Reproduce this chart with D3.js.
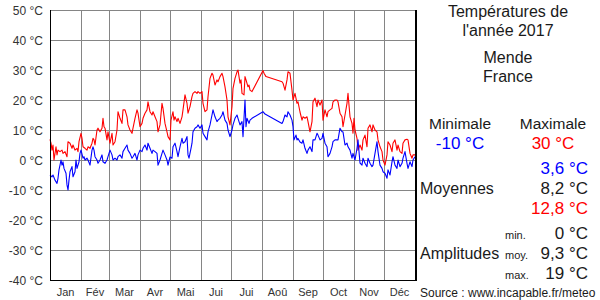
<!DOCTYPE html>
<html>
<head>
<meta charset="utf-8">
<script src="https://cdn.jsdelivr.net/npm/d3@7"></script>
<style>
  body { margin: 0; background: #fff; }
  svg { display: block; font-family: "Liberation Sans", Arial, sans-serif; }
</style>
</head>
<body>
<svg id="chart" width="600" height="300"></svg>
<script>
// ---- data ----
var monthNames = ["Jan", "Fév", "Mar", "Avr", "Mai", "Jui", "Jui", "Aoû", "Sep", "Oct", "Nov", "Déc"];
var monthStarts = [0, 31, 59, 90, 120, 151, 181, 212, 243, 273, 304, 334, 365];
var yTicks = [-40, -30, -20, -10, 0, 10, 20, 30, 40, 50];

// daily maximum (red), day of year / °C
var maxDay = [0,1,2,3,4,6,7,8,10,12,13,15,17,18,20,22,23,25,27,28,29,31,32,33,35,37,38,40,42,43,44,45,47,48,50,52,53,54,
  55,57,58,60,62,63,65,67,68,70,72,73,75,77,78,80,82,83,85,87,88,90,92,93,95,97,98,100,102,103,105,107,108,110,112,113,115,117,118,
  120,121,123,124,125,127,128,130,132,133,135,137,138,140,142,143,145,147,148,150,152,153,155,157,158,160,162,163,165,167,168,170,172,173,175,177,178,180,182,183,185,187,
  188,190,191,192,194,195,196,198,199,200,202,213,214,216,232,233,235,237,238,240,242,243,245,247,248,
  250,252,253,255,257,258,260,262,263,265,267,268,270,272,273,275,277,278,280,282,283,285,287,288,290,292,293,295,297,298,300,302,303,304,305,307,308,
  310,312,313,315,317,318,320,322,323,325,327,328,330,332,333,335,337,338,340,342,343,345,347,348,350,352,353,355,357,358,360,362,363,365];
var maxTemp = [6.9,5.6,3.3,5,0,4.4,1.7,3.3,2.8,3.3,2.2,2.8,1.1,6.1,5.6,3.9,5,3.3,3.9,2.8,6.1,8.9,7.2,4.4,3.9,3.3,4.4,3.9,5.6,7.2,6.7,5,10,10.6,9.4,10.6,13.9,11.1,
  10.6,6.7,9.4,5.6,8.9,5,6.1,10,16.1,13.9,12.2,16.7,16.7,14.4,11.7,10,8.9,10.6,13.9,16.7,15.6,11.1,12.2,13.9,15.6,16.7,19.4,16.1,15,16.1,14.4,12.8,9.4,11.7,18.9,17.2,12.2,9.4,7.8,
  6.7,13.3,16.1,13.3,14.4,12.8,13.9,12.2,14.4,16.7,21.7,18.9,15.6,17.8,21.1,22.2,22.8,22.2,22.8,22.2,22.8,18.9,16.1,16.7,21.1,27.2,28.9,28.3,25,26.7,26.1,27.8,28.9,27.8,24.4,20,14.4,11.7,17.8,23.9,27.2,29.4,
  30,25.6,26.7,22.2,21.7,27.8,26.7,24.4,25,23.3,22.8,29.8,28.9,27.8,26.1,25.6,23.3,26.7,29.4,28.9,23.3,20,22.2,18.9,19.4,
  16,13.3,14.4,13.9,14.4,12.8,9.4,12.8,19.4,20.6,17.8,20,18.3,20,13.3,16.7,14.4,16.1,16.7,17.2,19.4,20,20,19.4,15.6,14.4,11.1,15,18.9,22.2,14.4,12.2,8.9,13.9,10,7.2,3.3,
  5,3.3,6.7,8.3,4.4,10.6,11.7,9.4,11.7,10,9.4,6.7,4.4,2.8,0,-1.7,1.7,6.1,5,2.8,5.6,6.7,3.3,5,2.8,2.2,5.6,6.7,6.9,6.7,2.2,0.6,1.7,1.7];

// daily minimum (blue), day of year / °C
var minDay = [0,2,3,5,7,8,9,10,11,12,13,14,16,17,18,19,20,22,23,25,26,27,29,30,31,33,34,35,37,38,40,42,43,44,45,47,48,50,52,53,
  55,57,58,60,62,63,65,67,68,70,72,73,75,77,78,80,82,83,85,87,88,90,92,93,95,97,98,100,102,103,105,107,108,110,112,113,115,117,118,
  120,122,123,125,127,128,130,132,133,135,137,138,139,141,142,143,145,147,148,150,152,153,155,157,158,160,162,163,165,167,168,170,172,173,175,177,178,180,182,183,185,187,
  188,190,192,193,195,196,197,199,200,202,213,215,232,233,235,237,238,240,242,243,244,246,247,248,
  250,252,253,255,257,258,260,262,263,265,267,268,270,272,273,275,277,278,280,282,283,285,287,288,290,292,293,295,297,298,300,302,303,305,307,308,
  310,312,313,315,317,318,320,322,323,325,327,328,330,332,333,335,337,338,340,342,343,345,347,348,350,352,353,355,357,358,360,362,363,365];
var minTemp = [-5,-5.6,-5,-6.7,-7.8,-6.1,-3.3,-1.7,0,-1.7,-0.6,-2.8,-4.4,-8.3,-10,-6.7,-3.9,-2.2,-5.6,-3.9,0,-2.8,-0.6,2.2,3.3,0.6,1.1,0,0.6,0,-1.7,3.3,4.4,3.3,1.1,0,-1.1,0,1.7,-0.6,
  -1.1,0,1.1,3.3,1.7,0,0.6,0,1.1,1.7,0.6,2.8,3.9,5,3.3,2.2,0.6,1.1,2.2,0,1.7,3.3,2.8,3.9,5,3.3,5.6,3.9,2.2,3.3,2.8,2.2,-1.7,0,2.2,3.3,1.7,0,-1.7,
  1,0.6,4.4,5.6,2.8,1.1,4.4,7.2,5.6,6.1,7.8,1.7,0.6,3.9,5.6,9.4,10.6,11.1,11.7,10.6,11.7,8.9,7.8,6.7,9.4,11.7,15,16.7,14.4,12.8,13.3,13.9,15,16.1,13.3,12.2,10,7.8,10,11.7,13.9,15,
  13.9,11.7,12.8,7.8,20,11.1,13.9,12.2,13.3,13.9,16.1,15.3,12.2,12.8,15,14.4,16.1,15,13.3,11.1,6.7,8.3,6.7,7.2,
  6,5.6,6.7,3.9,2.2,3.3,4.4,2.8,6.7,6.7,8.9,8.3,6.7,7.2,8.9,5.6,4.4,1.1,2.2,4.4,6.1,6.7,6.7,6.7,10.6,9.4,9.4,5,5.6,4.4,3.3,0.6,2.2,0,3.9,6.7,
  -1,-1.7,0.6,-1.1,-2.2,0.6,-1.1,-2.2,-1.7,2.2,6.1,2.8,-1.7,-2.8,-3.9,-4.4,-6.1,-3.3,-5,-0.6,1.1,-1.7,-2.8,0,-2.2,-1.1,0.6,2.8,-1.1,-2.8,-0.6,-2.2,0,1.1];

// summary block on the right
var extremeLabels = ["Minimale", "Maximale"];
var extremeValues = ["-10 °C", "30 °C"];
var meanValues = ["3,6 °C", "8,2 °C", "12,8 °C"];
var amplitudeLabels = ["min.", "moy.", "max."];
var amplitudeValues = ["0 °C", "9,3 °C", "19 °C"];

// ---- drawing ----
(function() {
  var plotL = 50, plotR = 415, plotT = 10, plotB = 280;
  var blue = "#0000ff", red = "#ff0000", ink = "#1a1a1a", grid = "#858585";

  var svg = d3.select("#chart");
  svg.append("rect").attr("width", 600).attr("height", 300).attr("fill", "#fff");

  var x = d3.scaleLinear().domain([0, 365]).range([plotL, plotR]);
  var y = d3.scaleLinear().domain([-40, 50]).range([plotB, plotT]);

  // horizontal grid
  svg.append("g").selectAll("line")
    .data(yTicks)
    .enter().append("line")
    .attr("x1", plotL).attr("x2", plotR)
    .attr("y1", function(d) { return y(d) + 0.5; })
    .attr("y2", function(d) { return y(d) + 0.5; })
    .attr("stroke", grid).attr("stroke-width", 1);

  // month separators
  svg.append("g").selectAll("line")
    .data(monthStarts.slice(1, 12))
    .enter().append("line")
    .attr("x1", function(d) { return Math.round(x(d)) + 0.5; })
    .attr("x2", function(d) { return Math.round(x(d)) + 0.5; })
    .attr("y1", plotT).attr("y2", plotB)
    .attr("stroke", grid).attr("stroke-width", 1);

  // y labels
  svg.append("g").selectAll("text")
    .data(yTicks)
    .enter().append("text")
    .attr("x", 43)
    .attr("y", function(d) { return y(d) + 4.5; })
    .attr("text-anchor", "end")
    .attr("font-size", 12)
    .attr("fill", "#333")
    .text(function(d) { return d + " °C"; });

  // month labels
  svg.append("g").selectAll("text")
    .data(monthNames)
    .enter().append("text")
    .attr("x", function(d, i) { return x((monthStarts[i] + monthStarts[i + 1]) / 2); })
    .attr("y", 296)
    .attr("text-anchor", "middle")
    .attr("font-size", 11)
    .attr("fill", "#333")
    .text(function(d) { return d; });

  // series
  function series(days, temps, color) {
    var pts = days.map(function(d, i) { return [d, temps[i]]; });
    var line = d3.line()
      .x(function(p) { return x(p[0]); })
      .y(function(p) { return y(p[1]); });
    svg.append("path")
      .datum(pts)
      .attr("d", line)
      .attr("fill", "none")
      .attr("stroke", color)
      .attr("stroke-width", 1.1)
      .attr("stroke-linejoin", "round");
  }
  series(maxDay, maxTemp, red);
  series(minDay, minTemp, blue);

  // frame
  svg.append("line").attr("x1", plotL + 0.5).attr("x2", plotL + 0.5).attr("y1", plotT).attr("y2", plotB + 1)
    .attr("stroke", "#000").attr("stroke-width", 1);
  svg.append("line").attr("x1", plotL).attr("x2", plotR + 2).attr("y1", plotB + 0.5).attr("y2", plotB + 0.5)
    .attr("stroke", "#000").attr("stroke-width", 1);
  svg.append("line").attr("x1", plotR + 1).attr("x2", plotR + 1).attr("y1", plotT).attr("y2", plotB + 1)
    .attr("stroke", "#000").attr("stroke-width", 2);

  // right panel
  var panel = svg.append("g");
  function txt(s, px, py, size, anchor, color) {
    panel.append("text")
      .attr("x", px).attr("y", py)
      .attr("font-size", size)
      .attr("text-anchor", anchor || "start")
      .attr("fill", color || ink)
      .text(s);
  }
  txt("Températures de", 508, 17, 16, "middle");
  txt("l'année 2017", 508, 36, 16, "middle");
  txt("Mende", 508, 63, 16, "middle");
  txt("France", 508, 82, 16, "middle");

  txt(extremeLabels[0], 460, 129, 15.5, "middle");
  txt(extremeLabels[1], 553, 129, 15.5, "middle");
  txt(extremeValues[0], 460, 149, 17, "middle", blue);
  txt(extremeValues[1], 553, 149, 17, "middle", red);

  txt(meanValues[0], 588, 174, 17, "end", blue);
  txt("Moyennes", 420, 194, 16, "start");
  txt(meanValues[1], 588, 194, 17, "end");
  txt(meanValues[2], 588, 214, 17, "end", red);

  txt("Amplitudes", 420, 259, 16, "start");
  [239, 259, 279].forEach(function(py, i) {
    txt(amplitudeLabels[i], 505, py, 11, "start");
    txt(amplitudeValues[i], 588, py, 17, "end");
  });

  txt("Source : www.incapable.fr/meteo", 420, 297, 12, "start");
})();
</script>
</body>
</html>
